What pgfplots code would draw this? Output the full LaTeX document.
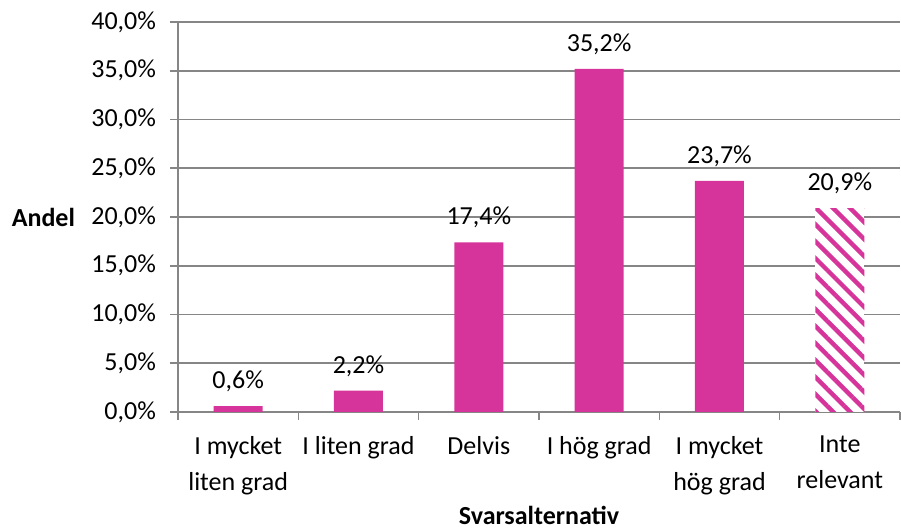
\documentclass[border=0pt]{standalone}
\usepackage{pgfplots}
\pgfplotsset{compat=1.18}
\usepackage{fontspec}
\setmainfont{Carlito}
\usetikzlibrary{patterns.meta}
\definecolor{rosa}{RGB}{214,52,154}
\definecolor{axgray}{RGB}{134,134,134}
\begin{document}
\fontsize{13}{18}\selectfont
\begin{tikzpicture}
\begin{axis}[
  scale only axis,
  width=361pt, height=195pt,
  xmin=-0.5, xmax=5.5,
  ymin=0, ymax=40,
  ytick={0,5,...,40},
  xtick={0,1,2,3,4,5},
  xticklabels={{I mycket\\liten grad},{I liten grad},{Delvis},{I hög grad},{I mycket\\hög grad},{Inte\\relevant}},
  minor xtick={-0.5,0.5,...,5.5},
  major x tick style={draw=none},
  minor tick length=4pt,
  major tick length=4pt,
  tick align=outside,
  tick style={axgray, thick},
  axis x line*=bottom, axis y line*=left,
  axis line style={axgray, thick, -},
  ymajorgrids, grid style={axgray, thick},
  font=\fontsize{13}{18}\selectfont,
  /pgf/number format/assume math mode=true,
  yticklabel={\pgfmathprintnumber[fixed, fixed zerofill, precision=1, use comma]{\tick}\%},
  yticklabel style={xshift=-2.5pt},
  xticklabel style={align=center, anchor=north, yshift=-3.5pt},
  ylabel={\textbf{Andel}},
  ylabel style={rotate=-90},
  every axis y label/.style={at={(rel axis cs:0,0.5)}, anchor=east, xshift=-47pt},
  xlabel={\textbf{Svarsalternativ}},
  every axis x label/.style={at={(rel axis cs:0.5,0)}, anchor=base, inner sep=0pt, yshift=-56.5pt},
  ybar, bar width=24.5pt, bar shift=0pt,
  nodes near coords={\pgfmathprintnumber[fixed, fixed zerofill, precision=1, use comma]{\pgfplotspointmeta}\%},
  nodes near coords style={text=black, yshift=2.5pt},
]
\addplot[fill=rosa, draw=none] coordinates {(0,0.6) (1,2.2) (2,17.4) (3,35.2) (4,23.7)};
\addplot[fill=white, draw=none,
  postaction={pattern={Lines[angle=-45, distance=6pt, line width=2.2pt]}, pattern color=rosa}]
  coordinates {(5,20.9)};
\end{axis}
\pgfresetboundingbox
\path[use as bounding box] (current axis.south west) ++(-89pt,-58.5pt) rectangle ++(450.5pt,264.5pt);
\end{tikzpicture}
\end{document}
